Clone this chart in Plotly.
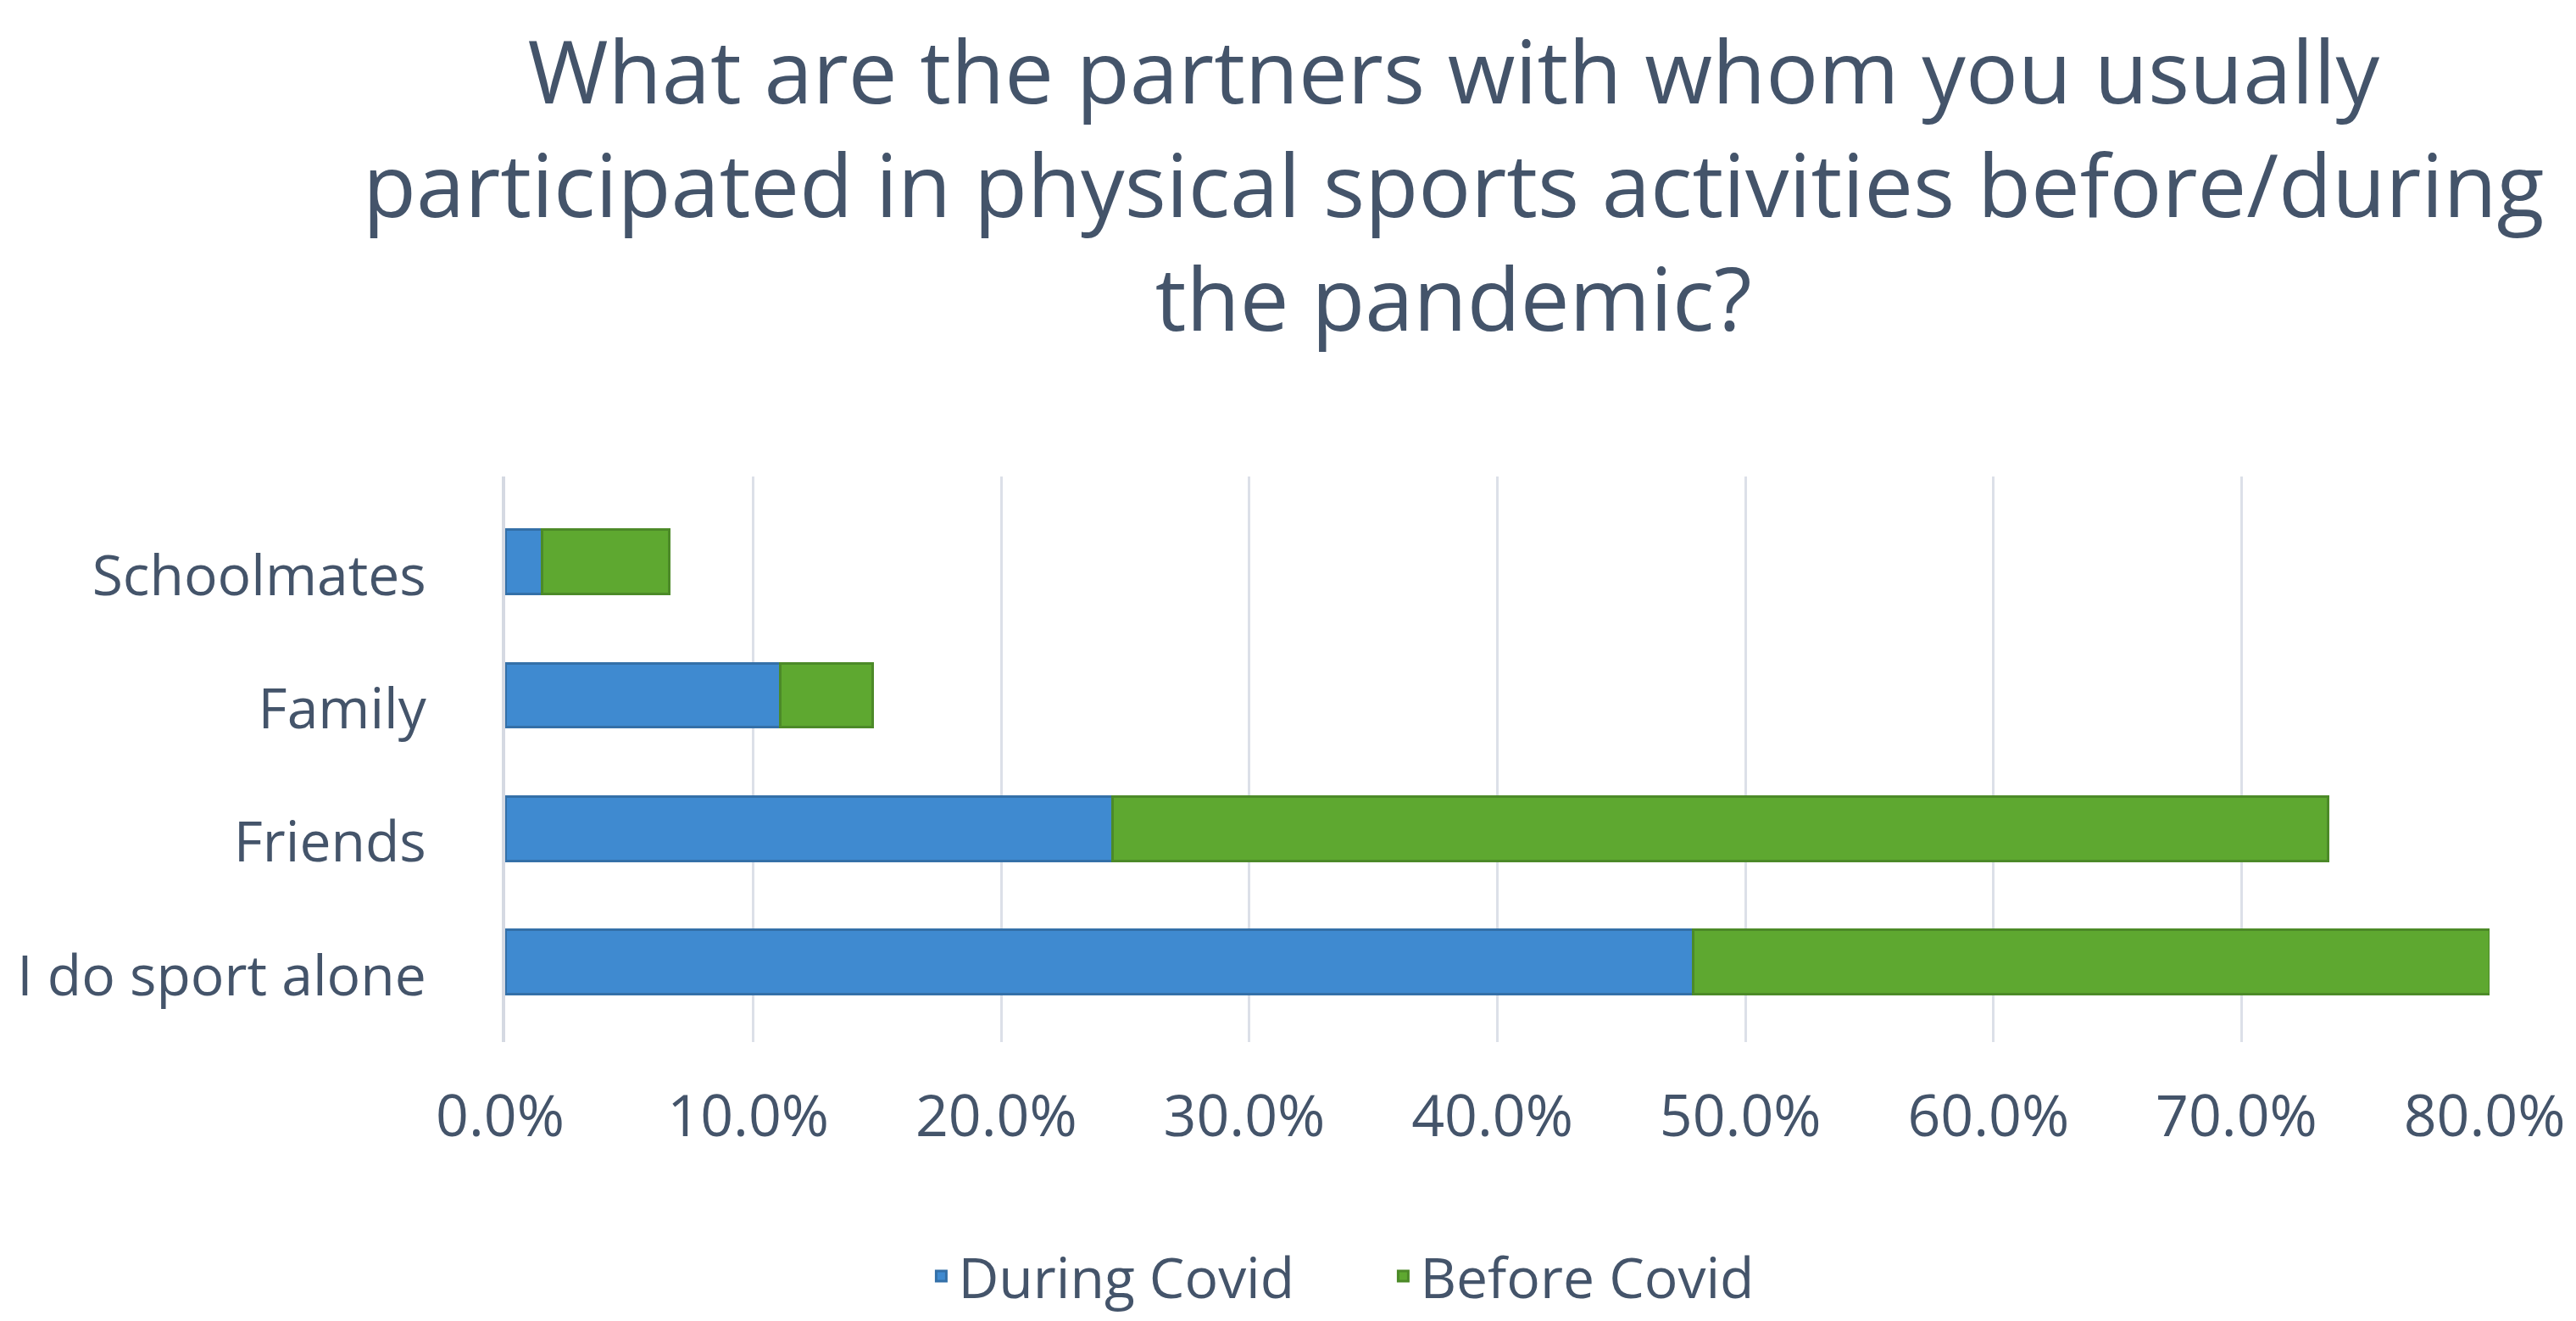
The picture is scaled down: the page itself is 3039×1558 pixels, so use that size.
import plotly.graph_objects as go

categories = ["I do sport alone", "Friends", "Family", "Schoolmates"]
during_covid = [0.479, 0.245, 0.111, 0.015]
before_covid = [0.321, 0.490, 0.037, 0.051]
x_ticks = [0.0, 0.1, 0.2, 0.3, 0.4, 0.5, 0.6, 0.7, 0.8]
x_tick_labels = ["0.0%", "10.0%", "20.0%", "30.0%", "40.0%", "50.0%", "60.0%", "70.0%", "80.0%"]
title_text = ("What are the partners with whom you usually<br>"
              "participated in physical sports activities before/during<br>"
              "the pandemic?")

TEXT = "#44546A"
FONT = "Open Sans"

fig = go.Figure()
fig.add_trace(go.Bar(
    y=categories, x=during_covid, orientation="h", name="During Covid",
    marker=dict(color="#3F8AD0", line=dict(color="#3470A8", width=3)),
    width=0.48,
))
fig.add_trace(go.Bar(
    y=categories, x=before_covid, orientation="h", name="Before Covid",
    marker=dict(color="#5EA830", line=dict(color="#4C8A28", width=3)),
    width=0.48,
))

fig.add_annotation(
    text=title_text, xref="paper", yref="paper", x=0.478, y=1.828,
    xanchor="center", yanchor="top", showarrow=False, align="center",
    font=dict(family=FONT, size=103, color=TEXT),
)

fig.update_layout(
    width=3039, height=1558,
    barmode="stack",
    paper_bgcolor="white", plot_bgcolor="white",
    font=dict(family=FONT, color=TEXT, size=64),
    margin=dict(l=580, r=110, t=554, b=335),
    xaxis=dict(
        range=[0, 0.8], tickvals=x_ticks, ticktext=x_tick_labels,
        showgrid=True, gridcolor="#DCE0E8", gridwidth=3,
        zeroline=False, showline=False,
        ticks="outside", ticklen=28, tickcolor="rgba(0,0,0,0)",
        tickfont=dict(size=68, color=TEXT), ticklabelshift=-6,
    ),
    yaxis=dict(
        categoryorder="array", categoryarray=categories,
        range=[-0.60, 3.64],
        showgrid=False, zeroline=False,
        showline=True, linecolor="#D5D9E2", linewidth=4,
        ticks="outside", ticklen=76, tickcolor="rgba(0,0,0,0)",
        tickfont=dict(size=66, color=TEXT), ticklabelshift=16,
    ),
    legend=dict(
        orientation="h", x=0.444, xanchor="center", y=-0.414, yanchor="middle",
        font=dict(size=66, color=TEXT),
        traceorder="normal", entrywidth=500,
    ),
)

fig.write_html("out.html")
